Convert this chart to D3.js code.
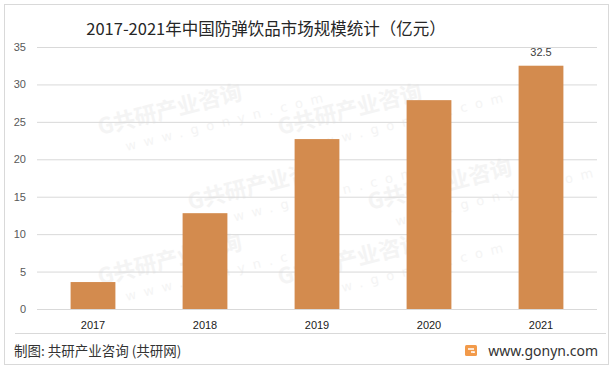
<!DOCTYPE html>
<html>
<head>
<meta charset="utf-8">
<script src="https://cdn.jsdelivr.net/npm/d3@7"></script>
<style>
  body { margin: 0; background: #fff; }
  svg { display: block; }
</style>
</head>
<body>
<script>
// chart data
var years = ["2017", "2018", "2019", "2020", "2021"];
var values = [3.6, 12.8, 22.7, 27.9, 32.5];
var yTicks = [0, 5, 10, 15, 20, 25, 30, 35];
var labelled = ["2021"]; // only last bar carries a value label

var W = 613, H = 369;
var margin = { top: 47, right: 16, bottom: 60, left: 37 };

var svg = d3.select("body").append("svg")
    .attr("width", W)
    .attr("height", H);

// outer frame
svg.append("rect")
    .attr("x", 4.5).attr("y", 4.5)
    .attr("width", W - 9).attr("height", H - 9)
    .attr("fill", "#fff")
    .attr("stroke", "#d9d9d9");

// faint watermark tiles, only the ones that sit fully inside the frame
var wm = svg.append("g");
for (var r = 0; r < 5; r++) {
  for (var c = 0; c < 4; c++) {
    var tx = c * 180 + (r % 2) * 90 + 10, ty = r * 75 + 60;
    var g = wm.append("g").attr("transform", "translate(" + tx + "," + ty + ") rotate(-14)");
    g.append("text")
        .attr("font-family", "'Noto Sans CJK SC', sans-serif")
        .attr("font-weight", "bold")
        .attr("font-size", 22)
        .attr("fill", "#f4f4f4")
        .text("G共研产业咨询");
    g.append("text")
        .attr("y", 22).attr("x", 22)
        .attr("font-family", "'DejaVu Sans', sans-serif")
        .attr("font-size", 13)
        .attr("letter-spacing", 8)
        .attr("fill", "#f4f4f4")
        .text("www.gonyn.com");
  }
}
wm.selectAll("g").each(function() {
  var b = this.getBoundingClientRect();
  if (b.left < 6 || b.top < 6 || b.right > W - 6 || b.bottom > H - 6) d3.select(this).remove();
});

var x = d3.scaleBand()
    .domain(years)
    .range([margin.left, W - margin.right])
    .paddingInner(0.6)
    .paddingOuter(0.3);

var y = d3.scaleLinear()
    .domain([0, 35])
    .range([H - margin.bottom, margin.top]);

// gridlines + y labels
var yAxis = svg.append("g")
    .attr("transform", "translate(" + margin.left + ",0)")
    .call(d3.axisLeft(y).tickValues(yTicks).tickSize(-(W - margin.right - margin.left)).tickPadding(11));
yAxis.select(".domain").remove();
yAxis.selectAll(".tick line").attr("stroke", "#d9d9d9");
yAxis.selectAll(".tick text")
    .attr("fill", "#595959")
    .attr("font-family", "'Liberation Sans', Arial, sans-serif")
    .attr("font-size", 11);

// bars
svg.append("g").selectAll("rect")
    .data(years)
    .join("rect")
    .attr("x", function(d) { return x(d); })
    .attr("width", x.bandwidth())
    .attr("y", function(d, i) { return y(values[i]); })
    .attr("height", function(d, i) { return y(0) - y(values[i]); })
    .attr("fill", "#d38b4e");

// value label
svg.append("g").selectAll("text")
    .data(years.filter(function(d) { return labelled.indexOf(d) >= 0; }))
    .join("text")
    .attr("x", function(d) { return x(d) + x.bandwidth() / 2; })
    .attr("y", function(d) { return y(values[years.indexOf(d)]) - 10; })
    .attr("text-anchor", "middle")
    .attr("fill", "#404040")
    .attr("font-family", "'Liberation Sans', Arial, sans-serif")
    .attr("font-size", 11)
    .text(function(d) { return values[years.indexOf(d)]; });

// x axis labels
var xAxis = svg.append("g")
    .attr("transform", "translate(0," + y(0) + ")")
    .call(d3.axisBottom(x).tickSize(0).tickPadding(12));
xAxis.select(".domain").remove();
xAxis.selectAll(".tick text")
    .attr("fill", "#1a1a1a")
    .attr("font-family", "'Liberation Sans', Arial, sans-serif")
    .attr("font-size", 11);

// title
svg.append("text")
    .attr("x", 266).attr("y", 35)
    .attr("text-anchor", "middle")
    .attr("fill", "#262626")
    .attr("font-family", "'Noto Sans CJK SC', sans-serif")
    .attr("font-size", 16.5)
    .text("2017-2021年中国防弹饮品市场规模统计（亿元）");

// footer separator
svg.append("line")
    .attr("x1", 15).attr("x2", 606)
    .attr("y1", 333.5).attr("y2", 333.5)
    .attr("stroke", "#d9d9d9");

svg.append("text")
    .attr("x", 14).attr("y", 356)
    .attr("fill", "#333")
    .attr("font-family", "'Noto Sans CJK SC', sans-serif")
    .attr("font-size", 13.5)
    .text("制图: 共研产业咨询 (共研网)");

// logo
var logo = svg.append("g").attr("transform", "translate(465,345)");
logo.append("rect").attr("width", 12).attr("height", 11).attr("rx", 1.5).attr("fill", "#f29a4a");
logo.append("path").attr("d", "M3,4 H9 M6,7 H9 V8").attr("stroke", "#fff").attr("stroke-width", 1.6).attr("fill", "none");

svg.append("text")
    .attr("x", 598).attr("y", 356)
    .attr("text-anchor", "end")
    .attr("fill", "#333")
    .attr("font-family", "'Noto Sans', sans-serif")
    .attr("font-size", 14)
    .text("www.gonyn.com");
</script>
</body>
</html>
